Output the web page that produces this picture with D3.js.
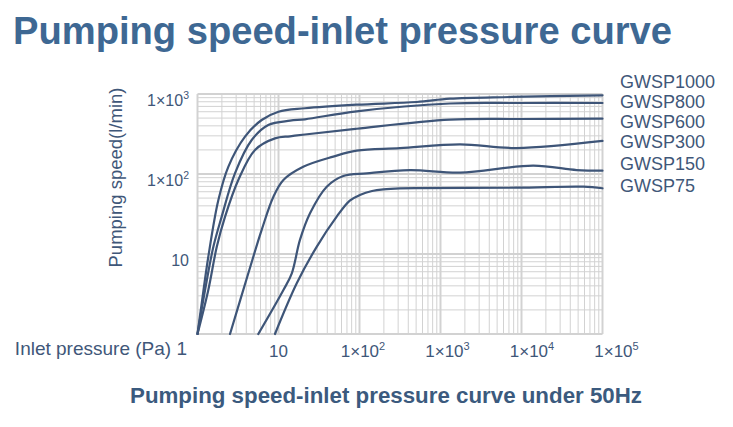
<!DOCTYPE html>
<html>
<head>
<meta charset="utf-8">
<script src="https://cdn.jsdelivr.net/npm/d3@7"></script>
<style>
  html, body { margin: 0; padding: 0; background: #ffffff; }
  svg { display: block; font-family: "Liberation Sans", Arial, sans-serif; }
</style>
</head>
<body>
<svg id="chart" width="733" height="427"></svg>
<script>
// ---- data (inlet pressure in Pa, pumping speed in l/min) ----
const seriesNames = ["GWSP1000", "GWSP800", "GWSP600", "GWSP300", "GWSP150", "GWSP75"];
const gwsp1000 = [[1,1],[1.127,2.42],[1.36,9.25],[1.81,47.3],[2.40,123],[3.86,293],[6.2,473],[10,601],[21.2,663],[92.3,735],[508,794],[1310,874],[7570,918],[100000,963]];
const gwsp800  = [[1,1],[1.24,3.55],[1.57,12.3],[1.99,29.3],[2.90,102],[4.67,266],[7.48,410],[13.9,464],[21.2,483],[92.3,608],[1310,761],[9560,772],[100000,772]];
const gwsp600  = [[1,1],[1.36,3.55],[1.73,12.3],[2.19,29.3],[3.19,84.1],[5.13,200],[9.05,279],[13.9,296],[21.2,312],[92.3,368],[1310,477],[9560,487],[100000,491]];
const gwsp300  = [[2.52,1],[4.24,5.74],[6.2,20],[8.63,51.6],[11.5,84.1],[20.2,123],[47.5,165],[92.3,196],[316,210],[1740,234],[8730,211],[100000,259]];
const gwsp150  = [[5.63,1],[11.5,3.55],[14.6,5.74],[18.4,15.0],[24.5,32.3],[39.4,69.4],[63.1,94.4],[123,102],[420,112],[1740,104],[14000,127],[48000,112],[100000,110]];
const gwsp75   = [[9.05,1],[16.8,4.3],[29.6,12.3],[52.3,29.3],[75.9,46.5],[101,54.6],[143,61.3],[197,64.4],[316,66.3],[8730,67.4],[57900,69.4],[100000,66.3]];
const seriesValues = [gwsp1000, gwsp800, gwsp600, gwsp300, gwsp150, gwsp75];

const xTickValues = [10, 100, 1000, 10000, 100000];
const xTickLabels = [["10",""],["1×10","2"],["1×10","3"],["1×10","4"],["1×10","5"]];
const yTickValues = [10, 100, 1000];
const yTickLabels = [["10",""],["1×10","2"],["1×10","3"]];

const titleText = "Pumping speed-inlet pressure curve";
const subtitleText = "Pumping speed-inlet pressure curve under 50Hz";
const xAxisTitle = "Inlet pressure (Pa) 1";
const yAxisTitle = "Pumping speed(l/min)";

// ---- layout ----
const legendBaselines = [88, 108, 128, 148, 170, 192];
const lineColor = "#3e5578";
const textColor = "#3f5779";
const gridColor = "#d2d2d2";

const svg = d3.select("#chart");
const x = d3.scaleLog().domain([1, 1e5]).range([197.5, 602.5]);
const y = d3.scaleLog().domain([1, 1000]).range([334, 94]);

// grid
const xGridVals = [];
for (let d = 0; d < 5; d++) for (let k = 1; k <= 9; k++) xGridVals.push(k * Math.pow(10, d));
xGridVals.push(1e5);
const yGridVals = [];
for (let d = 0; d < 3; d++) for (let k = 1; k <= 9; k++) yGridVals.push(k * Math.pow(10, d));
yGridVals.push(1000);
const isMajor = v => Math.abs(Math.log10(v) - Math.round(Math.log10(v))) < 1e-9;

const grid = svg.append("g");
grid.selectAll("line.vx").data(xGridVals).join("line")
  .attr("x1", d => x(d)).attr("x2", d => x(d))
  .attr("y1", y(1)).attr("y2", y(1000))
  .attr("stroke", gridColor)
  .attr("stroke-width", d => isMajor(d) ? 2 : 1);
grid.selectAll("line.hy").data(yGridVals).join("line")
  .attr("y1", d => y(d)).attr("y2", d => y(d))
  .attr("x1", x(1)).attr("x2", x(1e5))
  .attr("stroke", gridColor)
  .attr("stroke-width", d => isMajor(d) ? 2 : 1);

// curves
const line = d3.line().x(d => x(d[0])).y(d => y(d[1])).curve(d3.curveCatmullRom.alpha(0.5));
svg.append("g").selectAll("path").data(seriesValues).join("path")
  .attr("d", line)
  .attr("fill", "none")
  .attr("stroke", lineColor)
  .attr("stroke-width", 2.2)
  .attr("stroke-linecap", "round");

// legend labels
svg.append("g").selectAll("text").data(seriesNames).join("text")
  .attr("x", 620).attr("y", (d, i) => legendBaselines[i])
  .attr("font-size", 18).attr("fill", textColor)
  .text(d => d);

// x tick labels
const xt = svg.append("g").selectAll("text").data(xTickValues).join("text")
  .attr("x", (d, i) => x(d) + 3.5 * i)
  .attr("y", 357)
  .attr("text-anchor", "middle")
  .attr("font-size", 17).attr("fill", textColor);
xt.append("tspan").text((d, i) => xTickLabels[i][0]);
xt.append("tspan").attr("font-size", 11).attr("dy", -7).text((d, i) => xTickLabels[i][1]);

// y tick labels
const yt = svg.append("g").selectAll("text").data(yTickValues).join("text")
  .attr("x", 189)
  .attr("y", d => y(d) + 12)
  .attr("text-anchor", "end")
  .attr("font-size", 16).attr("fill", textColor);
yt.append("tspan").text((d, i) => yTickLabels[i][0]);
yt.append("tspan").attr("font-size", 10.5).attr("dy", -7).text((d, i) => yTickLabels[i][1]);

// axis titles
svg.append("text")
  .attr("x", 187).attr("y", 355)
  .attr("text-anchor", "end")
  .attr("font-size", 19).attr("fill", textColor)
  .text(xAxisTitle);

svg.append("text")
  .attr("transform", "translate(122,177.5) rotate(-90)")
  .attr("text-anchor", "middle")
  .attr("font-size", 18.5).attr("fill", textColor)
  .text(yAxisTitle);

// titles
svg.append("text")
  .attr("x", 13).attr("y", 44)
  .attr("font-size", 38).attr("font-weight", "bold")
  .attr("fill", "#3e6893")
  .attr("textLength", 659).attr("lengthAdjust", "spacingAndGlyphs")
  .text(titleText);

svg.append("text")
  .attr("x", 130).attr("y", 403)
  .attr("font-size", 22).attr("font-weight", "bold")
  .attr("fill", "#3b5a7e")
  .attr("textLength", 512).attr("lengthAdjust", "spacingAndGlyphs")
  .text(subtitleText);
</script>
</body>
</html>
